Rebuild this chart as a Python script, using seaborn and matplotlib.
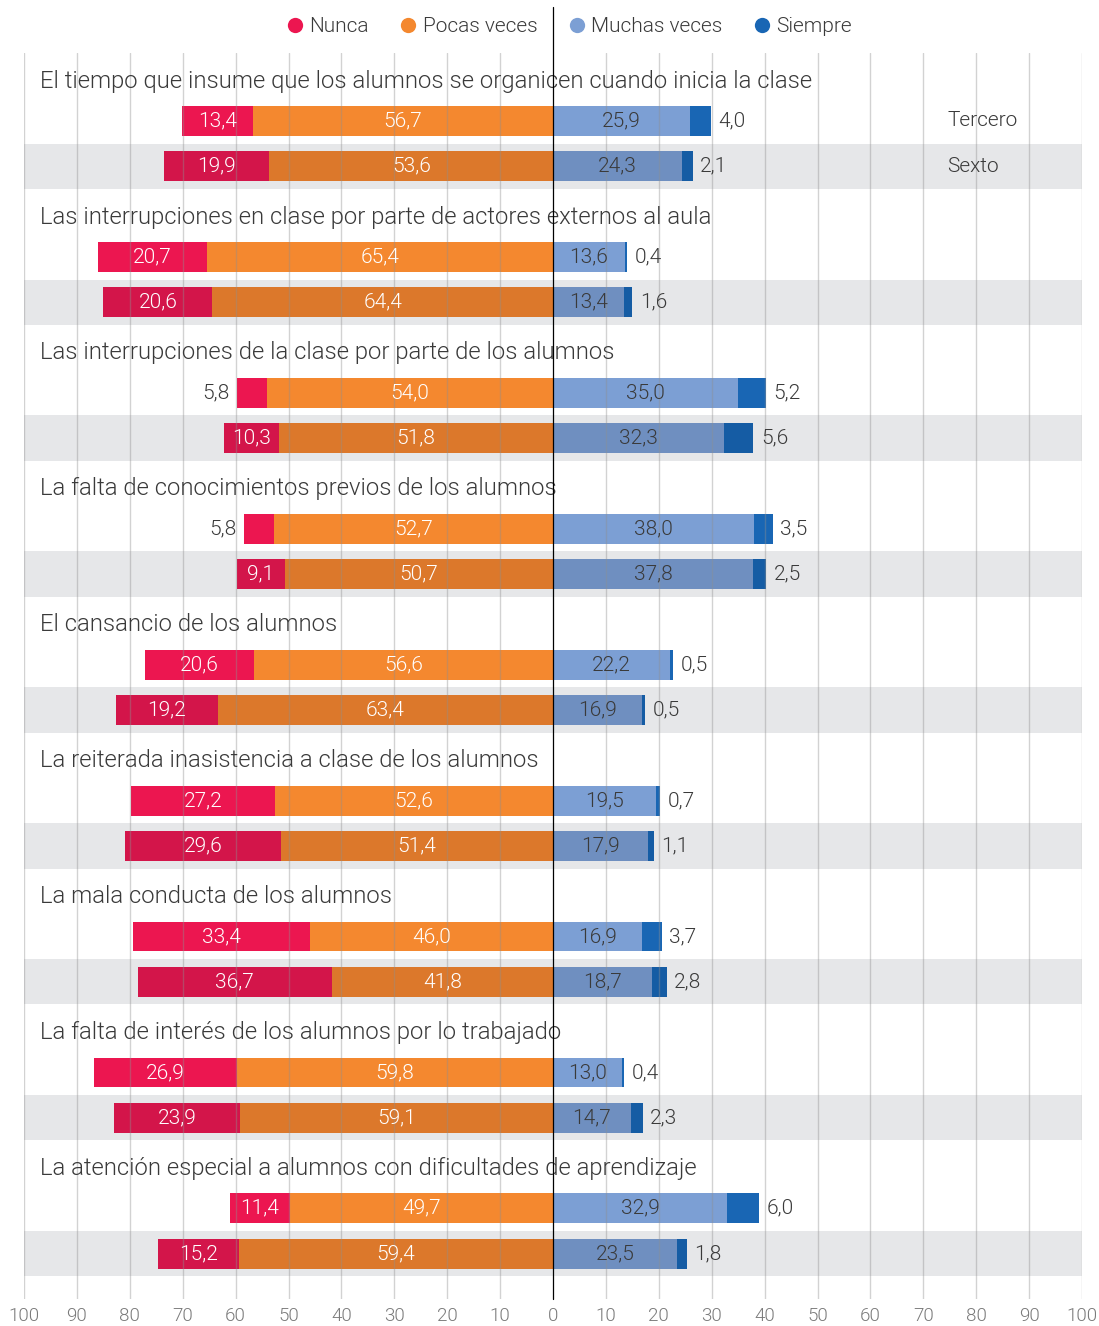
import numpy as np
import pandas as pd
import seaborn as sns
import matplotlib.pyplot as plt
from matplotlib.lines import Line2D

temas = [
    "El tiempo que insume que los alumnos se organicen cuando inicia la clase",
    "Las interrupciones en clase por parte de actores externos al aula",
    "Las interrupciones de la clase por parte de los alumnos",
    "La falta de conocimientos previos de los alumnos",
    "El cansancio de los alumnos",
    "La reiterada inasistencia a clase de los alumnos",
    "La mala conducta de los alumnos",
    "La falta de interés de los alumnos por lo trabajado",
    "La atención especial a alumnos con dificultades de aprendizaje",
]
grados = ["Tercero", "Sexto"]

# valores por tema: [tercero, sexto]
nunca = [[13.4, 19.9], [20.7, 20.6], [5.8, 10.3], [5.8, 9.1], [20.6, 19.2],
         [27.2, 29.6], [33.4, 36.7], [26.9, 23.9], [11.4, 15.2]]
pocas = [[56.7, 53.6], [65.4, 64.4], [54.0, 51.8], [52.7, 50.7], [56.6, 63.4],
         [52.6, 51.4], [46.0, 41.8], [59.8, 59.1], [49.7, 59.4]]
muchas = [[25.9, 24.3], [13.6, 13.4], [35.0, 32.3], [38.0, 37.8], [22.2, 16.9],
          [19.5, 17.9], [16.9, 18.7], [13.0, 14.7], [32.9, 23.5]]
siempre = [[4.0, 2.1], [0.4, 1.6], [5.2, 5.6], [3.5, 2.5], [0.5, 0.5],
           [0.7, 1.1], [3.7, 2.8], [0.4, 2.3], [6.0, 1.8]]

col_nunca = {"Tercero": "#EC1650", "Sexto": "#D3154A"}
col_pocas = {"Tercero": "#F4882F", "Sexto": "#DC782B"}
col_muchas = {"Tercero": "#7C9FD4", "Sexto": "#6F8FC0"}
col_siempre = {"Tercero": "#1966B4", "Sexto": "#155CA4"}

FONT = "Roboto"
DARK = "#3a3a3a"
W = 300

rows = []
for i, tema in enumerate(temas):
    for j, g in enumerate(grados):
        rows.append({
            "tema": tema, "grado": g, "pos": 3 * i + 1 + j,
            "nunca": nunca[i][j], "pocas": pocas[i][j],
            "muchas": muchas[i][j], "siempre": siempre[i][j],
        })
df = pd.DataFrame(rows)
df["neg_total"] = -(df["nunca"] + df["pocas"])
df["neg_pocas"] = -df["pocas"]
df["pos_total"] = df["muchas"] + df["siempre"]

sns.set_style("white")
plt.rcParams["font.family"] = [FONT, "DejaVu Sans"]

fig = plt.figure(figsize=(10.99, 13.26), dpi=100)
ax = fig.add_axes([24 / 1099, 1 - 1299 / 1326, 1058 / 1099, 1246 / 1326])

# franjas grises de Sexto
for p in df.loc[df["grado"] == "Sexto", "pos"]:
    ax.axhspan(p - 0.5, p + 0.5, color="#E6E7E9", zorder=0, lw=0)

common = dict(y="pos", hue="grado", orient="h", native_scale=True, dodge=False,
              width=0.66, errorbar=None, legend=False, ax=ax, linewidth=0,
              saturation=1, zorder=2)
sns.barplot(data=df, x="neg_total", palette=col_nunca, **common)
sns.barplot(data=df, x="neg_pocas", palette=col_pocas, **common)
sns.barplot(data=df, x="pos_total", palette=col_siempre, **common)
sns.barplot(data=df, x="muchas", palette=col_muchas, **common)


def fmt(v):
    return f"{v:.1f}".replace(".", ",")


fs = 15
for _, r in df.iterrows():
    y = r["pos"]
    tot_neg = r["nunca"] + r["pocas"]
    if r["nunca"] >= 7:
        ax.text(-(r["pocas"] + r["nunca"] / 2), y, fmt(r["nunca"]), ha="center",
                va="center", color="white", fontsize=fs, fontweight=W, zorder=4)
    else:
        ax.text(-tot_neg - 1.3, y, fmt(r["nunca"]), ha="right", va="center",
                color=DARK, fontsize=fs, fontweight=W, zorder=4)
    ax.text(-r["pocas"] / 2, y, fmt(r["pocas"]), ha="center", va="center",
            color="white", fontsize=fs, fontweight=W, zorder=4)
    ax.text(r["muchas"] / 2, y, fmt(r["muchas"]), ha="center", va="center",
            color=DARK, fontsize=fs, fontweight=W, zorder=4)
    ax.text(r["muchas"] + r["siempre"] + 1.4, y, fmt(r["siempre"]), ha="left",
            va="center", color=DARK, fontsize=fs, fontweight=W, zorder=4)

for i, tema in enumerate(temas):
    ax.text(-97.0, 3 * i + 0.12, tema, ha="left", va="center", color=DARK,
            fontsize=17.2, fontweight=W, zorder=4)

ax.text(74.5, 1, "Tercero", ha="left", va="center", color=DARK, fontsize=15,
        fontweight=W, zorder=4)
ax.text(74.5, 2, "Sexto", ha="left", va="center", color=DARK, fontsize=15,
        fontweight=W, zorder=4)

ax.set_xlim(-100, 100)
ax.set_ylim(27, -0.5)
ticks = np.arange(-100, 101, 10)
ax.set_xticks(ticks)
ax.set_xticklabels([str(abs(t)) for t in ticks], color="#7a7a7a", fontsize=13.5,
                   fontweight=W)
ax.set_yticks([])
ax.set_xlabel("")
ax.set_ylabel("")
ax.tick_params(axis="x", length=0, pad=6)
for s in ax.spines.values():
    s.set_visible(False)

for t in ticks:
    if t != 0:
        ax.axvline(t, color="#8f8f8f", alpha=0.4, lw=1, zorder=3)
ax.axvline(0, ymin=0, ymax=1 + 46 / 1246, color="black", lw=0.9, zorder=5,
           clip_on=False)

handles = [Line2D([], [], marker="o", ls="", markersize=11, markeredgewidth=0,
                  color=c)
           for c in ["#EC1650", "#F4882F", "#7C9FD4", "#1966B4"]]
fig.legend(handles, ["Nunca", "Pocas veces", "Muchas veces", "Siempre"],
           loc="center", bbox_to_anchor=(0.518, 0.980), ncol=4, frameon=False,
           handlelength=0.8, handletextpad=0.3, columnspacing=1.48,
           prop={"size": 15, "weight": W}, labelcolor=DARK)

fig.savefig("out.png", dpi=100)
